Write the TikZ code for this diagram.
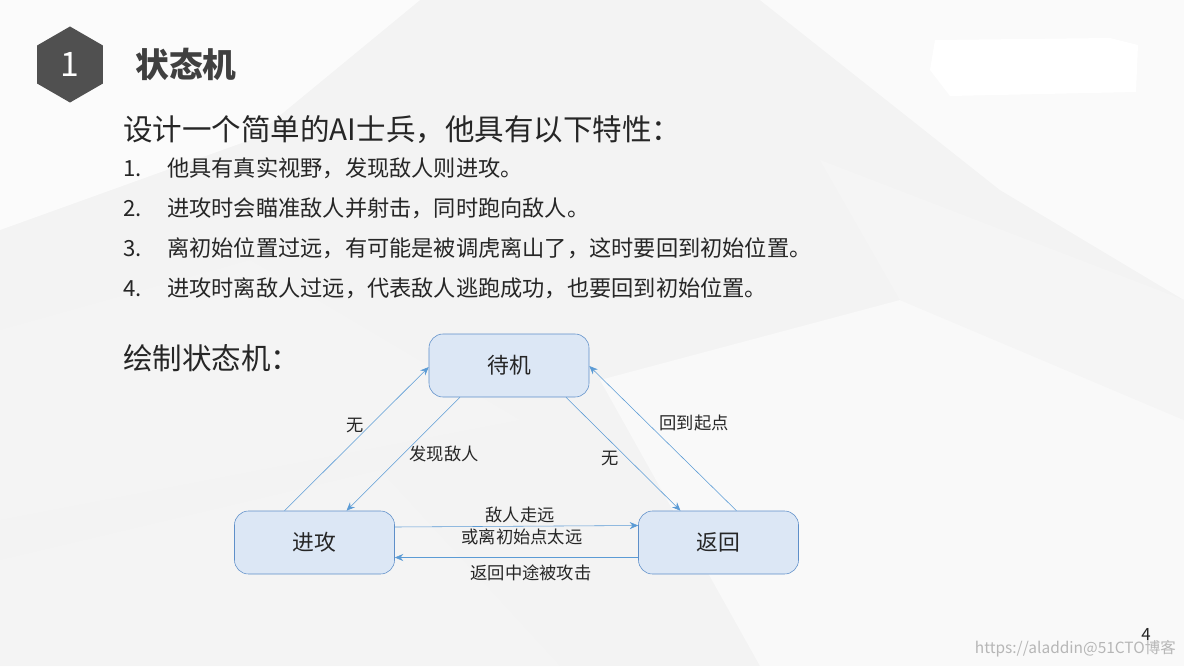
\documentclass[tikz,border=0pt]{standalone}
\usepackage{fontspec}
\setmainfont{Noto Sans CJK SC}
\usepackage{tikz}
\usetikzlibrary{shapes.geometric, positioning, arrows.meta, calc}

\definecolor{bgray}{HTML}{F3F3F3}
\definecolor{hexgray}{HTML}{505050}
\definecolor{txt}{HTML}{262626}
\definecolor{boxfill}{HTML}{DCE7F5}
\definecolor{boxline}{HTML}{5E8FC9}
\definecolor{arr}{HTML}{5B9BD5}

\begin{document}
\begin{tikzpicture}[x=0.025cm, y=-0.025cm,
    state/.style={draw=boxline, fill=boxfill, rounded corners=10pt, minimum width=4cm,
        minimum height=1.575cm, font=\fontsize{15.5}{18}\selectfont, text=txt},
    trans/.style={draw=arr, thin, -{Stealth[length=6pt, width=5pt]}},
    lbl/.style={font=\fontsize{12.3}{14}\selectfont, text=txt, inner sep=1pt},
    item/.style={anchor=west, font=\fontsize{15.8}{18}\selectfont, text=txt, inner sep=0pt}]
    \useasboundingbox (0,0) rectangle (1184,666);
    % background facets
    \fill[bgray] (0,0) rectangle (1184,666);
    \fill[white, opacity=0.7] (0,0) -- (420,0) -- (250,140) -- (0,230) -- cycle;
    \fill[white, opacity=0.6] (760,0) -- (1184,0) -- (1184,300) -- (1000,190) -- cycle;
    \fill[black!4, opacity=0.6] (0,330) -- (250,260) -- (520,420) -- (0,520) -- cycle;
    \fill[white, opacity=0.5] (600,380) -- (900,300) -- (1184,420) -- (1184,666) -- (760,666) -- cycle;
    \fill[black!4, opacity=0.6] (0,560) -- (380,470) -- (560,666) -- (0,666) -- cycle;
    \fill[black!3, opacity=0.6] (820,160) -- (1184,300) -- (1184,420) -- (900,300) -- cycle;
    % blanked area top right
    \fill[white] (935,40) -- (1110,38) -- (1138,45) -- (1136,92) -- (950,96) -- (930,70) -- cycle;

    % heading
    \node[regular polygon, regular polygon sides=6, shape border rotate=30, fill=hexgray,
        minimum size=1.9cm, inner sep=0pt, text=white, font=\fontsize{24}{28}\selectfont] (num) at (70,64.5) {1};
    \node[anchor=west, inner sep=0pt, text=black!75, font=\fontsize{24}{28}\bfseries\selectfont] (title) at (135,64) {状态机};

    % text lines
    \node[anchor=west, inner sep=0pt, text=txt, font=\fontsize{21}{24}\selectfont] (intro) at (123,130)
        {设计一个简单的AI士兵，他具有以下特性：};
    \node[item] (p1) at (123,168) {\makebox[1.1cm][l]{1.}他具有真实视野，发现敌人则进攻。};
    \node[item] (p2) at (123,208) {\makebox[1.1cm][l]{2.}进攻时会瞄准敌人并射击，同时跑向敌人。};
    \node[item] (p3) at (123,248) {\makebox[1.1cm][l]{3.}离初始位置过远，有可能是被调虎离山了，这时要回到初始位置。};
    \node[item] (p4) at (123,288) {\makebox[1.1cm][l]{4.}进攻时离敌人过远，代表敌人逃跑成功，也要回到初始位置。};
    \node[anchor=west, inner sep=0pt, text=txt, font=\fontsize{21}{24}\selectfont] (draw) at (123,358) {绘制状态机：};

    % states
    \node[state] (daiji) at (509,365.5) {待机};
    \node[state] (jingong) at (314.5,542.5) {进攻};
    \node[state] (fanhui) at (718.5,542.5) {返回};

    % transitions
    \draw[trans] ($(jingong.north)+(-30,0)$) -- ($(daiji.west)+(0,1.5)$);
    \draw[trans] ($(daiji.south)+(-49,0)$) -- ($(jingong.north)+(32,0)$);
    \draw[trans] ($(daiji.south)+(57,0)$) -- ($(fanhui.north)+(-38,0)$);
    \draw[trans] ($(fanhui.north)+(18,0)$) -- ($(daiji.east)+(0,0.5)$);
    \draw[trans] ($(jingong.east)+(0,-15.5)$) -- ($(fanhui.west)+(0,-17)$);
    \draw[trans] ($(fanhui.west)+(0,15)$) -- ($(jingong.east)+(0,15)$);

    % labels
    \node[lbl] (wu1) at (355,425) {无};
    \node[lbl] (faxian) at (444,454) {发现敌人};
    \node[lbl] (wu2) at (610,458) {无};
    \node[lbl] (huidao) at (694,423) {回到起点};
    \node[lbl] (zouyuan) at (520,515) {敌人走远};
    \node[lbl] (tai) at (522,537) {或离初始点太远};
    \node[lbl] (zhongtu) at (531,573) {返回中途被攻击};

    % page number and mark
    \node[text=txt, font=\fontsize{12}{14}\selectfont, inner sep=0pt] (page) at (1146,634) {4};
    \node[anchor=east, text=black!35, opacity=0.8, font=\fontsize{11}{13}\selectfont, inner sep=0pt] (mark) at (1176,649)
        {https://aladdin@51CTO博客};
\end{tikzpicture}
\end{document}
